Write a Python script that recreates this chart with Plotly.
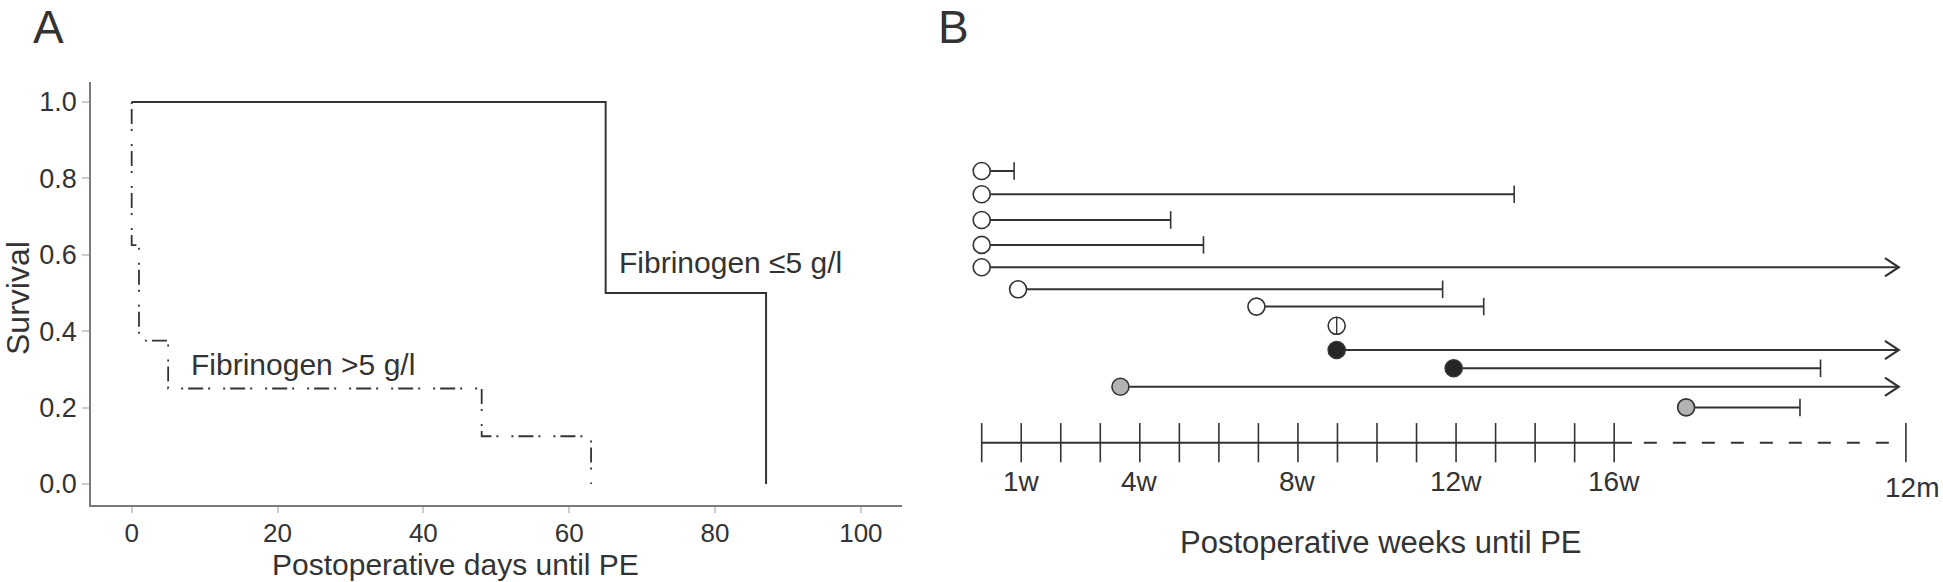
import plotly.graph_objects as go

W, H = 1943, 582
FONT = "Liberation Sans, Arial, Helvetica, sans-serif"
INK = "#333333"

# ---------------- Panel A: Kaplan-Meier data ----------------
days_low = [0, 65, 87]                      # Fibrinogen <=5 g/l
surv_low = [1.0, 0.5, 0.0]
days_high = [0, 0, 1, 5, 48, 63]            # Fibrinogen >5 g/l
surv_high = [1.0, 0.625, 0.375, 0.25, 0.125, 0.0]
x_ticks_A = [0, 20, 40, 60, 80, 100]
y_ticks_A = [0.0, 0.2, 0.4, 0.6, 0.8, 1.0]
label_low = "Fibrinogen \u22645 g/l"
label_high = "Fibrinogen >5 g/l"

# ---------------- Panel B: per-patient timelines (weeks) ----------------
row_lane = [1.0, 1.97, 3.04, 4.08, 5.01, 5.93, 6.65, 7.45, 8.46, 9.22, 9.99, 10.85]
start_wk = [0, 0, 0, 0, 0, 0.92, 6.95, 8.98, 8.98, 11.94, 3.51, 17.82]
end_wk = [0.82, 13.47, 4.78, 5.61, None, 11.66, 12.70, None, None, 21.22, None, 20.7]
ongoing = [False, False, False, False, True, False, False, False, True, False, True, False]
marker_kind = ["open"] * 7 + ["split", "black", "black", "gray", "gray"]
week_ticks = list(range(17))
week_label_vals = [1, 4, 8, 12, 16]
week_label_text = ["1w", "4w", "8w", "12w", "16w"]
year_label = "12m"

# axis geometry for panel B (compressed scale: 12 months drawn at this position)
M12_POS = 23.38
ARROW_TIP = 23.2
SOLID_END = 16.45
DASH_START = 16.75
AXIS_LANE = 12.32


def px(x):
    return x / W


def py(y):
    return 1 - y / H


fig = go.Figure()

# ---- Panel A traces ----
fig.add_trace(go.Scatter(x=days_low, y=surv_low, mode="lines", line_shape="hv",
                         line=dict(color=INK, width=2), xaxis="x", yaxis="y",
                         showlegend=False, hoverinfo="skip"))
fig.add_trace(go.Scatter(x=days_high, y=surv_high, mode="lines", line_shape="hv",
                         line=dict(color=INK, width=1.8, dash="2px,5px,15px,5px,2px,13px"),
                         xaxis="x", yaxis="y", showlegend=False, hoverinfo="skip"))

# ---- Panel B: horizontal lines ----
seg_x, seg_y = [], []
for s, e, og, r in zip(start_wk, end_wk, ongoing, row_lane):
    end = ARROW_TIP if og else e
    if end is None:
        continue
    seg_x += [s, end, None]
    seg_y += [r, r, None]
fig.add_trace(go.Scatter(x=seg_x, y=seg_y, mode="lines", line=dict(color=INK, width=2),
                         xaxis="x2", yaxis="y2", showlegend=False, hoverinfo="skip"))

# chevrons for ongoing follow-up
chev_x, chev_y = [], []
DX, DY = 0.35, 0.38
for og, r in zip(ongoing, row_lane):
    if og:
        chev_x += [ARROW_TIP - DX, ARROW_TIP, ARROW_TIP - DX, None]
        chev_y += [r - DY, r, r + DY, None]
fig.add_trace(go.Scatter(x=chev_x, y=chev_y, mode="lines", line=dict(color=INK, width=2.2),
                         xaxis="x2", yaxis="y2", showlegend=False, hoverinfo="skip"))

# end bars
bx = [e for e, og in zip(end_wk, ongoing) if e is not None and not og]
by = [r for e, og, r in zip(end_wk, ongoing, row_lane) if e is not None and not og]
fig.add_trace(go.Scatter(x=bx, y=by, mode="markers",
                         marker=dict(symbol="line-ns", size=12.5, line=dict(color=INK, width=1.6)),
                         xaxis="x2", yaxis="y2", showlegend=False, hoverinfo="skip"))

# start circles
fills = {"open": "white", "split": "white", "black": "#262626", "gray": "#b3b3b3"}
for kind in ["open", "split", "black", "gray"]:
    xs = [s for s, k in zip(start_wk, marker_kind) if k == kind]
    ys = [r for r, k in zip(row_lane, marker_kind) if k == kind]
    fig.add_trace(go.Scatter(x=xs, y=ys, mode="markers",
                             marker=dict(symbol="circle", size=17, color=fills[kind],
                                         line=dict(color=INK, width=1.6)),
                             xaxis="x2", yaxis="y2", showlegend=False, hoverinfo="skip"))
    if kind == "split":
        fig.add_trace(go.Scatter(x=xs, y=ys, mode="markers",
                                 marker=dict(symbol="line-ns", size=12.5,
                                             line=dict(color=INK, width=1.4)),
                                 xaxis="x2", yaxis="y2", showlegend=False, hoverinfo="skip"))

# time axis of panel B
fig.add_trace(go.Scatter(x=[week_ticks[0], SOLID_END], y=[AXIS_LANE, AXIS_LANE], mode="lines",
                         line=dict(color=INK, width=2), xaxis="x2", yaxis="y2",
                         showlegend=False, hoverinfo="skip"))
fig.add_trace(go.Scatter(x=[DASH_START, ARROW_TIP], y=[AXIS_LANE, AXIS_LANE], mode="lines",
                         line=dict(color=INK, width=2, dash="13px,16px"), xaxis="x2", yaxis="y2",
                         showlegend=False, hoverinfo="skip"))
fig.add_trace(go.Scatter(x=week_ticks + [M12_POS], y=[AXIS_LANE] * (len(week_ticks) + 1),
                         mode="markers",
                         marker=dict(symbol="line-ns", size=28, line=dict(color=INK, width=1.6)),
                         xaxis="x2", yaxis="y2", showlegend=False, hoverinfo="skip"))

annotations = []
for v, t in zip(week_label_vals, week_label_text):
    annotations.append(dict(x=v, y=13.95, xref="x2", yref="y2", text=t, showarrow=False,
                            xanchor="center", yanchor="middle", borderpad=0,
                            font=dict(family=FONT, size=28, color=INK)))
annotations.append(dict(x=M12_POS, y=14.2, xref="x2", yref="y2", text=year_label,
                        showarrow=False, xanchor="center", yanchor="middle", xshift=6,
                        borderpad=0, font=dict(family=FONT, size=28, color=INK)))

# titles, labels
annotations += [
    dict(x=px(32), y=1, xref="paper", yref="paper", text="A", showarrow=False,
         xanchor="left", yanchor="top", borderpad=0,
         font=dict(family=FONT, size=46, color=INK)),
    dict(x=px(937), y=1, xref="paper", yref="paper", text="B", showarrow=False,
         xanchor="left", yanchor="top", borderpad=0,
         font=dict(family=FONT, size=46, color=INK)),
    dict(x=px(455), y=py(564), xref="paper", yref="paper", text="Postoperative days until PE",
         showarrow=False, xanchor="center", yanchor="middle", borderpad=0,
         font=dict(family=FONT, size=30, color=INK)),
    dict(x=px(18), y=py(298), xref="paper", yref="paper", text="Survival", textangle=-90,
         showarrow=False, xanchor="center", yanchor="middle", borderpad=0,
         font=dict(family=FONT, size=32, color=INK)),
    dict(x=px(1381), y=py(542), xref="paper", yref="paper", text="Postoperative weeks until PE",
         showarrow=False, xanchor="center", yanchor="middle", borderpad=0,
         font=dict(family=FONT, size=31, color=INK)),
    dict(x=66.7, y=0.579, xref="x", yref="y", text=label_low, showarrow=False,
         xanchor="left", yanchor="middle", borderpad=0,
         font=dict(family=FONT, size=30, color=INK)),
    dict(x=8.0, y=0.314, xref="x", yref="y", text=label_high, showarrow=False,
         xanchor="left", yanchor="middle", borderpad=0,
         font=dict(family=FONT, size=30, color=INK)),
]

fig.update_layout(
    width=W, height=H,
    margin=dict(l=0, r=0, t=0, b=0),
    paper_bgcolor="white", plot_bgcolor="white",
    font=dict(family=FONT, color=INK),
    showlegend=False,
    xaxis=dict(domain=[px(91), px(901.7)], range=[-5.58, 105.6], anchor="y",
               showline=True, linecolor="#7a7a7a", linewidth=1.6,
               ticks="outside", ticklen=6, tickwidth=1.5, tickcolor="#cccccc",
               tickvals=x_ticks_A, showgrid=False, zeroline=False, ticklabelstandoff=-2,
               tickfont=dict(family=FONT, size=26, color=INK)),
    yaxis=dict(domain=[py(505), py(81.7)], range=[-0.055, 1.053], anchor="x",
               showline=True, linecolor="#7a7a7a", linewidth=1.6,
               ticks="outside", ticklen=7, tickwidth=1.5, tickcolor="#cccccc",
               tickvals=y_ticks_A, tickformat=".1f", showgrid=False, zeroline=False,
               tickfont=dict(family=FONT, size=27, color=INK)),
    xaxis2=dict(domain=[px(960), px(1943)], range=[(960 - 981.7) / 39.53, (1943 - 981.7) / 39.53],
                anchor="y2", visible=False),
    yaxis2=dict(domain=[py(575), py(130)], range=[1 + (575 - 171) / 24, 1 + (130 - 171) / 24],
                anchor="x2", visible=False),
    annotations=annotations,
)

fig.write_html("out.html", config={"displayModeBar": False},
               post_script="document.body.style.margin='0px';document.body.style.overflow='hidden';")
